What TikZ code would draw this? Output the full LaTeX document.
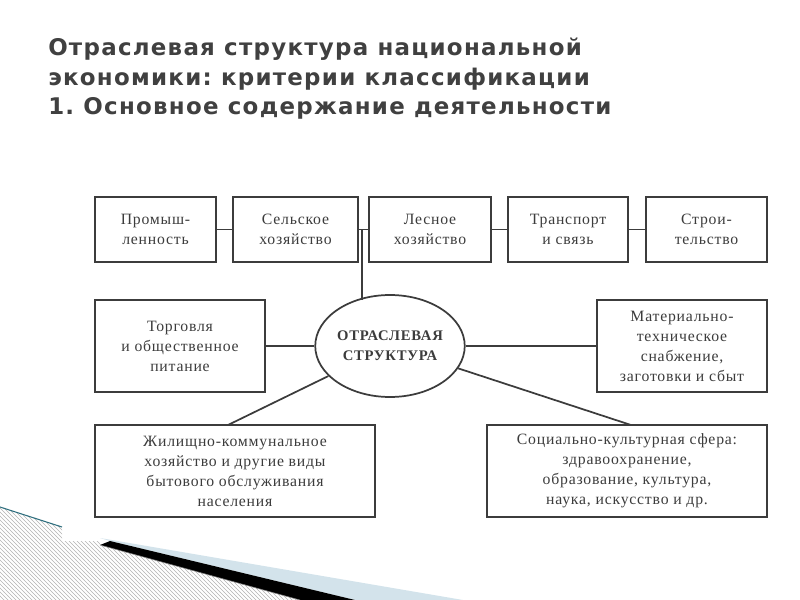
\documentclass[tikz,border=0pt]{standalone}
\usepackage{fontspec}
\setmainfont{Liberation Serif}[LetterSpace=5]
\newfontfamily\titlefont{DejaVu Sans}[LetterSpace=5.5]
\usetikzlibrary{shapes.geometric,patterns}
\frenchspacing
\definecolor{ink}{HTML}{3C3C3C}
\definecolor{titlegray}{HTML}{404040}
\definecolor{paleblue}{HTML}{D3E3EB}
\definecolor{tealline}{HTML}{2E6E7E}
\tikzset{
  box/.style={draw=ink, line width=1.3pt, fill=white, inner sep=0pt, align=center,
    text=ink, font=\fontsize{11.8}{15}\selectfont},
  topbox/.style={box, minimum height=48.75pt},
  midbox/.style={box, minimum width=127.5pt, minimum height=69pt},
  lowbox/.style={box, minimum width=210pt, minimum height=69pt},
  hub/.style={box, ellipse, minimum width=98pt, minimum height=76.5pt,
    font=\fontsize{11}{15}\selectfont\bfseries},
  link/.style={draw=ink, line width=1.3pt},
  titleline/.style={anchor=base west, inner sep=0pt, text=titlegray,
    font=\titlefont\bfseries\fontsize{17.2}{20}\selectfont}
}
\begin{document}
\begin{tikzpicture}[x=0.75pt,y=-0.75pt]
\useasboundingbox (0,0) rectangle (800,600);
% decoration bottom-left
\fill[paleblue] (100,538) -- (463,600) -- (355,600) -- (110,541) -- cycle;
\fill[black] (110,541) -- (355,600) -- (300,600) -- (100,545) -- cycle;
\fill[pattern=north west lines, pattern color=gray!60] (0,507) -- (62,527) -- (62,541) -- (100,541) -- (100,545) -- (300,600) -- (0,600) -- cycle;
\draw[tealline, line width=0.8pt] (0,507) -- (62,527);
\draw[gray, line width=0.4pt] (100,545) -- (300,600);
% title
\node[titleline] (t1) at (48,55) {Отраслевая структура национальной};
\node[titleline] (t2) at (48,85) {экономики: критерии классификации};
\node[titleline] (t3) at (48,114) {1. Основное содержание деятельности};
% nodes
\node[topbox, minimum width=90.75pt] (b1) at (155.5,229.5) {Промыш-\\ленность};
\node[topbox, minimum width=93.75pt] (b2) at (295.5,229.5) {Сельское\\хозяйство};
\node[topbox, minimum width=91.5pt] (b3) at (430,229.5) {Лесное\\хозяйство};
\node[topbox, minimum width=90pt] (b4) at (568,229.5) {Транспорт\\и связь};
\node[topbox, minimum width=90.75pt] (b5) at (706.5,229.5) {Строи-\\тельство};
\node[hub] (ell) at (390,346) {ОТРАСЛЕВАЯ\\СТРУКТУРА};
\node[midbox] (ml) at (180,346) {Торговля\\и общественное\\питание};
\node[midbox] (mr) at (682,346) {Материально-\\техническое\\снабжение,\\заготовки и сбыт};
\node[lowbox] (bl) at (235,471) {Жилищно-коммунальное\\хозяйство и другие виды\\бытового обслуживания\\населения};
\node[lowbox] (br) at (627,471) {Социально-культурная сфера:\\здравоохранение,\\образование, культура,\\наука, искусство и др.};
% connector points
\coordinate (j) at (362,229.5);
\coordinate (k) at (362,300);
\coordinate (lt) at (228,425);
\coordinate (rt) at (631,425);
% connectors
\draw[link] (b1) -- (b2);
\draw[link] (b2) -- (b3);
\draw[link] (b3) -- (b4);
\draw[link] (b4) -- (b5);
\draw[link] (j) -- (k);
\draw[link] (ml) -- (ell);
\draw[link] (ell) -- (mr);
\draw[link] (ell) -- (lt);
\draw[link] (ell) -- (rt);
\end{tikzpicture}
\end{document}
